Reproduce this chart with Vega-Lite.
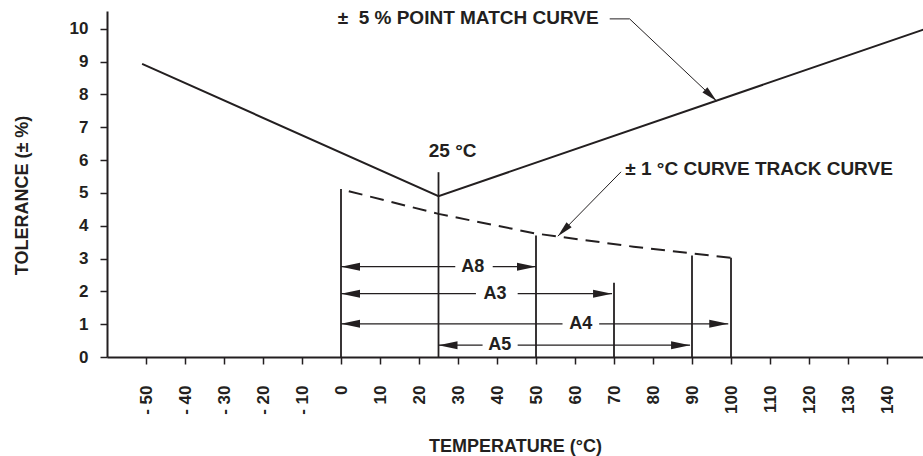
{
  "$schema": "https://vega.github.io/schema/vega-lite/v6.json",
  "width": 816,
  "height": 346,
  "autosize": {"type": "none"},
  "padding": {"left": 107, "top": 11, "right": 0, "bottom": 99},
  "background": "white",
  "config": {
    "view": {"stroke": null},
    "font": "Liberation Sans",
    "text": {"font": "Liberation Sans", "fontWeight": "bold", "color": "#231f20"},
    "axis": {
      "labelFont": "Liberation Sans", "labelFontWeight": "bold", "labelFontSize": 17, "labelColor": "#231f20",
      "tickSize": 7, "tickWidth": 1.5, "tickColor": "#231f20",
      "domainColor": "#231f20", "domainWidth": 2, "grid": false,
      "titleFont": "Liberation Sans", "titleFontWeight": "bold", "titleFontSize": 18, "titleColor": "#231f20"
    }
  },
  "datasets": {
    "solid": [{"t": -51, "v": 8.93}, {"t": 25, "v": 4.9}, {"t": 150, "v": 10.0}],
    "dashed": [{"t": 2, "v": 5.05}, {"t": 25, "v": 4.36}, {"t": 50, "v": 3.76}, {"t": 75, "v": 3.36}, {"t": 100, "v": 3.02}],
    "verticals": [{"t": 0, "v": 5.12}, {"t": 25, "v": 5.63}, {"t": 50, "v": 3.7}, {"t": 70, "v": 2.26}, {"t": 90, "v": 3.09}, {"t": 100, "v": 3.02}],
    "shafts": [
      {"t": 0, "b": 29.3, "v": 2.75}, {"t": 38.9, "b": 50, "v": 2.75},
      {"t": 0, "b": 34.6, "v": 1.93}, {"t": 45.3, "b": 69.5, "v": 1.93},
      {"t": 0, "b": 56.8, "v": 1.01}, {"t": 66.2, "b": 99.3, "v": 1.01},
      {"t": 25, "b": 36.3, "v": 0.36}, {"t": 45.3, "b": 89.5, "v": 0.36}
    ],
    "headsLeft": [{"t": 0, "v": 2.75}, {"t": 0, "v": 1.93}, {"t": 0, "v": 1.01}, {"t": 25, "v": 0.36}],
    "headsRight": [{"t": 50, "v": 2.75}, {"t": 69.5, "v": 1.93}, {"t": 99.3, "v": 1.01}, {"t": 89.5, "v": 0.36}],
    "spans": [{"t": 33.8, "v": 2.75, "label": "A8"}, {"t": 39.5, "v": 1.93, "label": "A3"}, {"t": 61.5, "v": 1.01, "label": "A4"}, {"t": 40.7, "v": 0.36, "label": "A5"}],
    "notes": [{"t": 22.5, "v": 6.1, "label": "25 °C"}, {"t": 72.9, "v": 5.55, "label": "± 1 °C CURVE TRACK CURVE"}, {"t": -0.85, "v": 10.15, "label": "±\u00a0\u00a05 % POINT MATCH CURVE"}],
    "leaders": [
      {"t": 68.9, "v": 10.3, "b": 74.0, "q": 10.3},
      {"t": 74.0, "v": 10.3, "b": 96.3, "q": 7.8},
      {"t": 71.8, "v": 5.64, "b": 55.6, "q": 3.68}
    ],
    "tipMatch": [{"t": 96.3, "v": 7.8}],
    "tipTrack": [{"t": 55.6, "v": 3.68}]
  },
  "encoding": {
    "x": {
      "field": "t", "type": "quantitative", "title": "TEMPERATURE (°C)",
      "scale": {"domain": [-60, 149.23], "nice": false, "zero": false},
      "axis": {
        "values": [-50, -40, -30, -20, -10, 0, 10, 20, 30, 40, 50, 60, 70, 80, 90, 100, 110, 120, 130, 140],
        "labelExpr": "datum.value < 0 ? '- ' + abs(datum.value) : datum.label",
        "labelAngle": 270,
        "labelOverlap": false,
        "labelPadding": 21,
        "titleBaseline": "alphabetic", "titleY": 94
      }
    },
    "y": {
      "field": "v", "type": "quantitative", "title": "TOLERANCE (± %)",
      "scale": {"domain": [0, 10.54], "nice": false, "zero": false},
      "axis": {
        "values": [0, 1, 2, 3, 4, 5, 6, 7, 8, 9, 10],
        "labelPadding": 12,
        "titleBaseline": "middle", "titleAlign": "center", "titleX": -85, "titleY": 184
      }
    }
  },
  "layer": [
    {
      "data": {"name": "verticals"},
      "mark": {"type": "rule", "color": "#231f20", "strokeWidth": 1.8},
      "encoding": {"y2": {"datum": 0}}
    },
    {
      "data": {"name": "solid"},
      "mark": {"type": "line", "color": "#231f20", "strokeWidth": 2, "clip": true},
      "encoding": {}
    },
    {
      "data": {"name": "dashed"},
      "mark": {"type": "line", "color": "#231f20", "strokeWidth": 2, "strokeDash": [14, 8]},
      "encoding": {}
    },
    {
      "data": {"name": "shafts"},
      "mark": {"type": "rule", "color": "#231f20", "strokeWidth": 1.3},
      "encoding": {"x2": {"field": "b"}}
    },
    {
      "data": {"name": "headsLeft"},
      "mark": {"type": "point", "shape": "M0,0L2,-0.42L2,0.42Z", "size": 361, "filled": true, "color": "#231f20", "opacity": 1}
    },
    {
      "data": {"name": "headsRight"},
      "mark": {"type": "point", "shape": "M0,0L-2,-0.42L-2,0.42Z", "size": 361, "filled": true, "color": "#231f20", "opacity": 1}
    },
    {
      "data": {"name": "spans"},
      "mark": {"type": "text", "align": "center", "baseline": "middle", "fontSize": 18, "fontWeight": "bold"},
      "encoding": {"text": {"field": "label"}}
    },
    {
      "data": {"name": "notes"},
      "mark": {"type": "text", "align": "left", "baseline": "alphabetic", "fontSize": 19, "fontWeight": "bold"},
      "encoding": {"text": {"field": "label"}}
    },
    {
      "data": {"name": "leaders"},
      "mark": {"type": "rule", "color": "#231f20", "strokeWidth": 1},
      "encoding": {"x2": {"field": "b"}, "y2": {"field": "q"}}
    },
    {
      "data": {"name": "tipMatch"},
      "mark": {"type": "point", "shape": "M0,0L-2,-0.45L-2,0.45Z", "size": 256, "angle": 43.3, "filled": true, "color": "#231f20", "opacity": 1}
    },
    {
      "data": {"name": "tipTrack"},
      "mark": {"type": "point", "shape": "M0,0L-2,-0.45L-2,0.45Z", "size": 256, "angle": 134.6, "filled": true, "color": "#231f20", "opacity": 1}
    }
  ]
}
